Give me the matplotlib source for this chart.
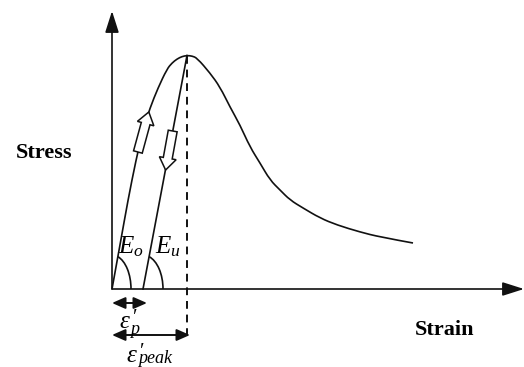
import matplotlib
matplotlib.use("Agg")
import matplotlib.pyplot as plt
from matplotlib.patches import Arc, PathPatch
from matplotlib.path import Path
import numpy as np

plt.rcParams['font.family'] = ['Liberation Serif', 'DejaVu Serif']
plt.rcParams['mathtext.fontset'] = 'custom'
plt.rcParams['mathtext.rm'] = 'Liberation Serif'
plt.rcParams['mathtext.it'] = 'Liberation Serif:italic'
plt.rcParams['mathtext.bf'] = 'Liberation Serif:bold'

# schematic stress-strain curve
strain = [0, 8, 16, 24, 31, 38, 46, 55, 60, 65, 70, 75,
          80, 85, 98, 108, 118, 128, 138, 148, 158, 168, 178, 191,
          208, 225, 248, 268, 301]
stress = [0, 44, 89, 129, 159, 181, 201, 220, 226, 230, 232.5, 233.5,
          233, 231, 216, 202, 182, 164, 142, 126, 109, 99, 89, 81,
          71, 64, 57, 52, 46]
peak_strain = 75
peak_stress = 233.5
eps_p = 31          # residual strain after unloading
loading_angle = 79.7
unloading_angle = 79.4

fig = plt.figure(figsize=(5.24, 3.67), dpi=100)
ax = fig.add_axes([0, 0, 1, 1])
ax.set_xlim(-112, 412)
ax.set_ylim(-78, 289)
ax.set_axis_off()

ink = '#111111'
lw = 1.2
# axes with arrow heads
ax.annotate('', xy=(0, 278), xytext=(0, 0),
            arrowprops=dict(arrowstyle='-|>,head_width=0.35,head_length=1.1',
                            lw=lw, color=ink, shrinkA=0, shrinkB=0, mutation_scale=12))
ax.annotate('', xy=(412, 0), xytext=(0, 0),
            arrowprops=dict(arrowstyle='-|>,head_width=0.35,head_length=1.1',
                            lw=lw, color=ink, shrinkA=0, shrinkB=0, mutation_scale=12))

# curve: smooth quadratic path through the read points
pts = list(zip(strain, stress))
verts = [pts[0]]
codes = [Path.MOVETO]
for i in range(1, len(pts) - 2):
    mid = ((pts[i][0] + pts[i + 1][0]) / 2, (pts[i][1] + pts[i + 1][1]) / 2)
    verts += [pts[i], mid]
    codes += [Path.CURVE3, Path.CURVE3]
verts += [pts[-2], pts[-1]]
codes += [Path.CURVE3, Path.CURVE3]
ax.add_patch(PathPatch(Path(verts, codes), fill=False, ec=ink, lw=lw))

# unloading line
ax.plot([peak_strain, eps_p], [peak_stress, 0], color=ink, lw=lw)
# dashed line at peak
ax.plot([peak_strain, peak_strain], [peak_stress, -47], color=ink, lw=1.4,
        dashes=(4, 3))

# hollow arrows along loading / unloading
def hollow(x0, y0, x1, y1):
    ax.arrow(x0, y0, x1 - x0, y1 - y0, width=9, head_width=17, head_length=12,
             length_includes_head=True, fc='white', ec=ink, lw=1.1, zorder=5)

hollow(25.9, 137, 36.8, 177)
hollow(60.7, 158, 53.6, 119)

# modulus arcs
ax.add_patch(Arc((0, 0), 38, 68, theta1=0, theta2=loading_angle, color=ink, lw=lw))
ax.add_patch(Arc((eps_p, 0), 40, 68, theta1=0, theta2=unloading_angle, color=ink, lw=lw))

ax.text(6, 36, r'$E_o$', fontsize=18, ha='left', va='baseline')
ax.text(43, 36, r'$E_u$', fontsize=18, ha='left', va='baseline')

# strain double arrows
ax.annotate('', xy=(0, -14), xytext=(35, -14),
            arrowprops=dict(arrowstyle='<|-|>,head_width=0.35,head_length=0.8',
                            lw=1.4, color=ink, shrinkA=0, shrinkB=0, mutation_scale=10))
ax.annotate('', xy=(0, -46), xytext=(78, -46),
            arrowprops=dict(arrowstyle='<|-|>,head_width=0.35,head_length=0.8',
                            lw=1.4, color=ink, shrinkA=0, shrinkB=0, mutation_scale=10))

# epsilon labels built from pieces: symbol, prime, subscript
ax.text(7, -39, 'ε', fontsize=18, style='italic', ha='left', va='baseline')
ax.text(21, -20, '′', fontsize=15, ha='left', va='top')
ax.text(18, -45, 'p', fontsize=13, style='italic', ha='left', va='baseline')

ax.text(14, -73, 'ε', fontsize=18, style='italic', ha='left', va='baseline')
ax.text(28, -54, '′', fontsize=15, ha='left', va='top')
ax.text(26, -74, 'peak', fontsize=13, style='italic', ha='left', va='baseline')

ax.text(-68, 136, 'Stress', fontsize=16, fontweight='bold', ha='center', va='center')
ax.text(333, -41, 'Strain', fontsize=16, fontweight='bold', ha='center', va='center')

fig.savefig('out.png', dpi=100)
